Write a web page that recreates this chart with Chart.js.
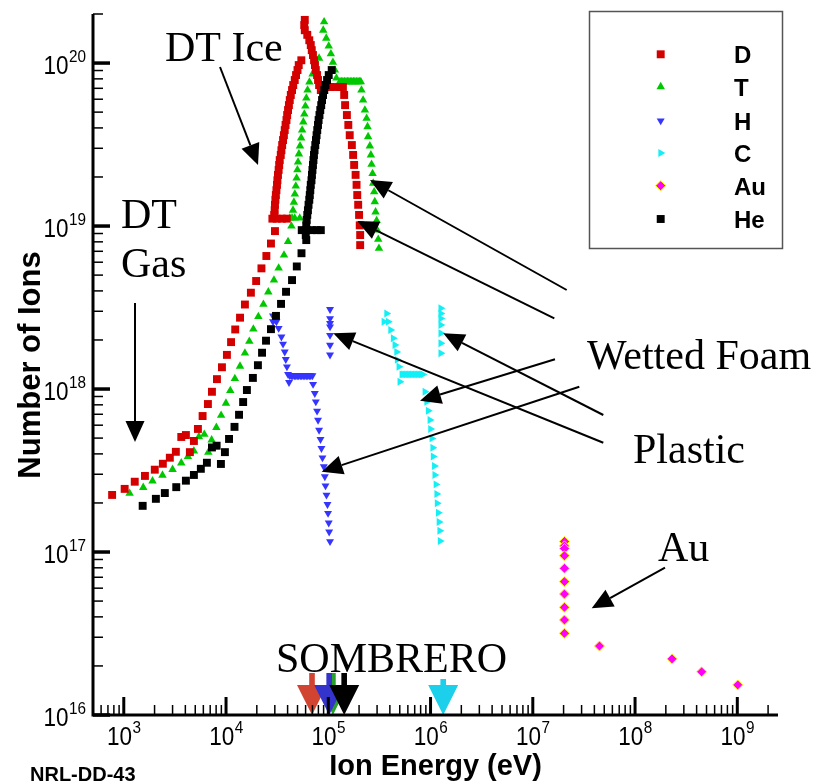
<!DOCTYPE html>
<html>
<head>
<meta charset="utf-8">
<script src="https://cdn.jsdelivr.net/npm/chart.js@4.4.1/dist/chart.umd.min.js"></script>
<style>
  html, body { margin: 0; padding: 0; background: #fff; }
</style>
</head>
<body>
<canvas id="myChart" width="821" height="784"></canvas>
<script>
// ---- data (ion energy in eV, number of ions) ----
const dEnergy = [
  7.69e2, 1.02e3, 1.28e3, 1.61e3, 2.01e3, 2.41e3, 2.82e3, 3.23e3, 3.65e3, 4.05e3,
  4.43e3, 4.85e3, 5.31e3, 5.90e3, 6.65e3, 7.28e3, 8.15e3, 9.12e3, 1.02e4, 1.12e4,
  1.23e4, 1.37e4, 1.53e4, 1.75e4, 1.97e4, 2.22e4, 2.48e4, 2.75e4, 3.01e4,
  2.84e4, 3.13e4, 3.51e4, 3.93e4,
  2.96e4, 2.99e4, 3.01e4, 3.04e4, 3.07e4, 3.11e4, 3.15e4, 3.18e4, 3.22e4, 3.27e4,
  3.31e4, 3.35e4, 3.43e4, 3.48e4, 3.54e4, 3.61e4, 3.68e4, 3.75e4, 3.82e4, 3.90e4,
  3.96e4, 4.04e4, 4.12e4, 4.20e4, 4.30e4, 4.42e4, 4.54e4, 4.70e4, 4.84e4, 5.00e4,
  5.14e4, 5.45e4,
  5.89e4, 5.82e4, 5.89e4, 6.23e4, 6.52e4, 6.74e4, 6.89e4, 7.08e4, 7.26e4, 7.41e4,
  7.55e4, 7.77e4, 7.94e4, 8.13e4, 8.45e4,
  9.25e4, 1.04e5, 1.16e5, 1.30e5, 1.39e5,
  1.43e5, 1.46e5, 1.52e5, 1.57e5, 1.62e5, 1.70e5, 1.75e5, 1.79e5, 1.85e5, 1.89e5,
  1.92e5, 1.96e5, 2.00e5, 2.03e5, 2.05e5, 2.05e5
];
const dIons = [
  2.24e17, 2.44e17, 2.70e17, 2.93e17, 3.20e17, 3.48e17, 3.79e17, 4.12e17, 5.08e17, 5.22e17,
  4.10e17, 4.80e17, 5.69e17, 6.83e17, 8.09e17, 9.62e17, 1.15e18, 1.36e18, 1.62e18, 1.94e18,
  2.32e18, 2.74e18, 3.30e18, 3.90e18, 4.60e18, 5.50e18, 6.55e18, 7.81e18, 9.31e18,
  1.11e19, 1.11e19, 1.11e19, 1.11e19,
  1.17e19, 1.25e19, 1.35e19, 1.45e19, 1.55e19, 1.66e19, 1.79e19, 1.91e19, 2.06e19, 2.21e19,
  2.37e19, 2.54e19, 2.73e19, 2.92e19, 3.14e19, 3.37e19, 3.61e19, 3.88e19, 4.17e19, 4.47e19,
  4.80e19, 5.15e19, 5.52e19, 5.93e19, 6.37e19, 6.83e19, 7.33e19, 7.87e19, 8.44e19, 9.06e19,
  9.72e19, 1.04e20,
  1.84e20, 1.71e20, 1.59e20, 1.49e20, 1.38e20, 1.29e20, 1.20e20, 1.12e20, 1.04e20, 9.72e19,
  9.06e19, 8.44e19, 7.87e19, 7.33e19, 6.83e19,
  7.13e19, 7.13e19, 7.13e19, 7.13e19, 7.13e19,
  6.37e19, 5.52e19, 4.80e19, 4.17e19, 3.61e19, 3.14e19, 2.73e19, 2.37e19, 2.06e19, 1.79e19,
  1.55e19, 1.35e19, 1.17e19, 1.01e19, 8.81e18, 7.64e18
];

const tEnergy = [
  1.14e3, 1.55e3, 1.91e3, 2.39e3, 3.00e3, 3.65e3, 4.24e3, 4.85e3, 5.43e3, 6.13e3,
  6.71e3, 7.23e3, 8.04e3, 8.95e3, 9.98e3, 1.10e4, 1.22e4, 1.37e4, 1.53e4, 1.69e4,
  1.85e4, 2.07e4, 2.32e4, 2.59e4, 2.94e4, 3.27e4, 3.69e4, 4.04e4,
  4.20e4, 4.70e4, 5.26e4,
  4.36e4, 4.42e4, 4.52e4, 4.61e4, 4.71e4, 4.81e4, 4.90e4, 4.99e4, 5.06e4, 5.16e4,
  5.29e4, 5.43e4, 5.55e4, 5.70e4, 5.83e4, 5.97e4, 6.10e4, 6.27e4, 6.54e4, 7.02e4,
  7.43e4, 8.13e4,
  9.10e4, 8.93e4, 9.55e4, 1.01e5, 1.06e5, 1.11e5, 1.16e5, 1.20e5, 1.24e5,
  1.30e5, 1.34e5, 1.39e5, 1.44e5, 1.49e5, 1.54e5, 1.59e5, 1.64e5, 1.70e5, 1.76e5,
  1.82e5, 1.88e5, 1.95e5, 2.01e5, 2.08e5,
  2.11e5, 2.19e5, 2.28e5, 2.37e5, 2.42e5, 2.45e5, 2.55e5, 2.61e5, 2.65e5, 2.71e5,
  2.75e5, 2.81e5, 2.85e5, 2.90e5, 2.97e5, 3.01e5, 3.08e5, 3.13e5
];
const tIons = [
  2.29e17, 2.49e17, 2.73e17, 2.96e17, 3.21e17, 3.52e17, 3.85e17, 4.17e17, 5.10e17, 5.27e17,
  4.09e17, 4.87e17, 5.81e17, 6.90e17, 8.18e17, 9.79e17, 1.16e18, 1.38e18, 1.66e18, 1.96e18,
  2.33e18, 2.78e18, 3.31e18, 3.94e18, 4.66e18, 5.52e18, 6.64e18, 8.02e18,
  1.12e19, 1.12e19, 1.12e19,
  1.00e19, 1.12e19, 1.25e19, 1.40e19, 1.57e19, 1.76e19, 1.97e19, 2.21e19, 2.47e19, 2.77e19,
  3.10e19, 3.47e19, 3.88e19, 4.35e19, 4.86e19, 5.45e19, 6.10e19, 6.83e19, 7.64e19, 8.57e19,
  9.59e19, 1.07e20,
  1.79e20, 1.59e20, 1.42e20, 1.27e20, 1.14e20, 1.01e20, 9.06e19, 8.09e19, 7.23e19,
  7.68e19, 7.68e19, 7.68e19, 7.68e19, 7.68e19, 7.68e19, 7.68e19, 7.68e19, 7.68e19, 7.68e19,
  7.68e19, 7.68e19, 7.68e19, 7.68e19, 7.68e19,
  6.83e19, 5.93e19, 5.15e19, 4.58e19, 4.07e19, 3.53e19, 3.10e19, 2.73e19, 2.39e19, 2.10e19,
  1.83e19, 1.62e19, 1.41e19, 1.22e19, 1.08e19, 9.44e18, 8.28e18, 7.30e18
];

const hEnergy = [
  2.88e4, 2.88e4, 3.11e4, 3.27e4, 3.48e4, 3.61e4, 3.75e4, 3.84e4, 3.94e4, 4.04e4, 4.13e4,
  4.20e4, 4.35e4, 4.49e4, 4.65e4, 4.81e4, 4.97e4, 5.14e4, 5.32e4, 5.50e4, 5.69e4,
  5.89e4, 6.09e4, 6.30e4, 6.52e4, 6.74e4, 7.00e4,
  7.10e4, 7.38e4, 7.55e4, 7.77e4, 7.94e4, 8.13e4, 8.39e4, 8.57e4, 8.77e4, 9.04e4,
  9.25e4, 9.39e4, 9.60e4, 9.82e4, 9.95e4, 1.01e5, 1.02e5, 1.04e5,
  1.04e5, 1.04e5, 1.04e5, 1.04e5, 1.04e5, 1.04e5, 1.04e5
];
const hIons = [
  2.81e18, 2.59e18, 2.59e18, 2.36e18, 2.09e18, 1.89e18, 1.69e18, 1.52e18, 1.37e18, 1.23e18, 1.10e18,
  1.21e18, 1.21e18, 1.21e18, 1.21e18, 1.21e18, 1.21e18, 1.21e18, 1.21e18, 1.21e18, 1.21e18,
  1.21e18, 1.21e18, 1.21e18, 1.21e18, 1.21e18, 1.21e18,
  1.07e18, 9.41e17, 8.36e17, 7.33e17, 6.45e17, 5.60e17, 4.91e17, 4.33e17, 3.79e17, 3.34e17,
  2.90e17, 2.55e17, 2.24e17, 1.96e17, 1.73e17, 1.51e17, 1.33e17, 1.16e17,
  3.08e18, 2.71e18, 2.53e18, 2.41e18, 2.14e18, 1.86e18, 1.62e18
];

const cEnergy = [
  3.72e5, 3.50e5, 3.85e5, 4.07e5, 4.31e5, 4.48e5, 4.66e5, 4.72e5, 4.90e5, 5.01e5,
  5.25e5, 5.43e5, 5.61e5, 5.81e5, 6.01e5, 6.22e5, 6.43e5, 6.65e5, 6.87e5, 7.11e5,
  7.36e5, 7.61e5, 7.87e5, 8.14e5, 8.42e5,
  8.81e5, 9.16e5, 9.48e5, 9.86e5, 1.00e6, 1.03e6, 1.05e6, 1.06e6, 1.09e6, 1.10e6,
  1.13e6, 1.15e6, 1.16e6, 1.19e6, 1.21e6, 1.23e6, 1.24e6,
  1.26e6, 1.26e6, 1.26e6, 1.26e6, 1.26e6, 1.26e6, 1.26e6
];
const cIons = [
  2.91e18, 2.59e18, 2.59e18, 2.30e18, 2.05e18, 1.86e18, 1.69e18, 1.51e18, 1.37e18, 1.11e18,
  1.23e18, 1.23e18, 1.23e18, 1.23e18, 1.23e18, 1.23e18, 1.23e18, 1.23e18, 1.23e18, 1.23e18,
  1.23e18, 1.23e18, 1.23e18, 1.23e18, 1.23e18,
  9.62e17, 8.36e17, 7.36e17, 6.45e17, 5.69e17, 4.98e17, 4.36e17, 3.85e17, 3.37e17, 2.97e17,
  2.60e17, 2.27e17, 1.99e17, 1.74e17, 1.53e17, 1.35e17, 1.17e17,
  3.13e18, 2.91e18, 2.71e18, 2.47e18, 2.20e18, 1.91e18, 1.66e18
];

const auEnergy = [
  2.04e7, 2.04e7, 2.04e7, 2.04e7, 2.04e7, 2.04e7, 2.04e7, 2.04e7, 2.04e7, 2.04e7,
  4.49e7, 2.30e8, 4.48e8, 1.01e9
];
const auIons = [
  1.16e17, 1.09e17, 1.05e17, 9.49e16, 7.94e16, 6.58e16, 5.52e16, 4.58e16, 3.83e16, 3.17e16,
  2.65e16, 2.21e16, 1.84e16, 1.53e16
];

const heEnergy = [
  1.53e3, 2.06e3, 2.52e3, 3.26e3, 4.05e3, 4.85e3, 5.67e3, 6.50e3, 7.28e3, 8.09e3,
  8.91e3, 9.75e3, 1.07e4, 1.21e4, 1.34e4, 1.47e4, 1.60e4, 1.83e4, 2.05e4, 2.25e4,
  2.46e4, 2.75e4, 3.08e4, 3.45e4, 3.86e4, 4.42e4, 4.92e4, 5.47e4,
  5.50e4, 6.15e4, 6.89e4, 7.71e4, 8.45e4,
  6.09e4, 6.02e4, 6.02e4, 6.09e4, 6.15e4, 6.23e4, 6.32e4, 6.41e4, 6.52e4, 6.59e4,
  6.67e4, 6.74e4, 6.85e4, 6.92e4, 7.00e4, 7.08e4, 7.16e4, 7.24e4, 7.34e4, 7.46e4,
  7.58e4, 7.68e4, 7.80e4, 7.93e4, 8.04e4, 8.20e4, 8.35e4, 8.53e4, 8.69e4, 8.89e4,
  9.14e4, 9.39e4, 9.73e4, 1.01e5, 1.08e5
];
const heIons = [
  1.92e17, 2.12e17, 2.30e17, 2.50e17, 2.74e17, 2.97e17, 3.24e17, 3.53e17, 4.38e17, 4.49e17,
  3.47e17, 4.10e17, 4.94e17, 5.86e17, 6.95e17, 8.32e17, 9.86e17, 1.17e18, 1.40e18, 1.67e18,
  1.98e18, 2.33e18, 2.81e18, 3.33e18, 3.95e18, 4.66e18, 5.65e18, 6.81e18,
  9.44e18, 9.44e18, 9.44e18, 9.44e18, 9.44e18,
  8.20e18, 8.81e18, 9.44e18, 1.01e19, 1.09e19, 1.17e19, 1.25e19, 1.35e19, 1.45e19, 1.55e19,
  1.66e19, 1.79e19, 1.91e19, 2.06e19, 2.21e19, 2.37e19, 2.54e19, 2.73e19, 2.92e19, 3.14e19,
  3.37e19, 3.61e19, 3.88e19, 4.17e19, 4.47e19, 4.80e19, 5.15e19, 5.52e19, 5.93e19, 6.37e19,
  6.83e19, 7.33e19, 7.87e19, 8.44e19, 9.06e19
];

// SOMBRERO markers on the energy axis (red, green, blue, black, cyan)
const sombreroEnergy = [6.93e4, 1.11e5, 1.02e5, 1.43e5, 1.33e6];
const sombreroColors = ['#d24432', '#2ca02c', '#3434cc', '#000000', '#1ccfea'];

// axis decades
const xDecades = [3, 4, 5, 6, 7, 8, 9];
const yDecades = [16, 17, 18, 19, 20];

const toPoints = (E, N) => E.map((e, i) => ({ x: e, y: N[i] }));

const SANS = '"Liberation Sans", Arial, Helvetica, sans-serif';
const SERIF = '"Liberation Serif", "Times New Roman", serif';

function txt(ctx, s, x, y, font, align, sx) {
  ctx.save();
  ctx.font = font;
  ctx.translate(x, y);
  ctx.scale(sx || 1, 1);
  ctx.textAlign = align || 'left';
  ctx.textBaseline = 'alphabetic';
  ctx.fillStyle = '#000';
  ctx.fillText(s, 0, 0);
  ctx.restore();
}

function arrow(ctx, x1, y1, x2, y2) {
  const a = Math.atan2(y2 - y1, x2 - x1);
  const L = 21, W = 9.5;
  const bx = x2 - L * Math.cos(a), by = y2 - L * Math.sin(a);
  ctx.save();
  ctx.strokeStyle = '#000';
  ctx.fillStyle = '#000';
  ctx.lineWidth = 2;
  ctx.beginPath();
  ctx.moveTo(x1, y1);
  ctx.lineTo(bx, by);
  ctx.stroke();
  ctx.beginPath();
  ctx.moveTo(x2, y2);
  ctx.lineTo(bx + W * Math.sin(a), by - W * Math.cos(a));
  ctx.lineTo(bx - W * Math.sin(a), by + W * Math.cos(a));
  ctx.closePath();
  ctx.fill();
  ctx.restore();
}

// axes, ticks, labels, legend and annotations
const decorations = {
  id: 'decorations',
  afterDraw(chart) {
    const { ctx, chartArea: { left, right, top, bottom }, scales: { x, y } } = chart;
    ctx.save();

    // SOMBRERO arrows
    sombreroEnergy.forEach((e, i) => {
      const px = x.getPixelForValue(e);
      const shaftTop = i === 4 ? 679 : 673;
      ctx.fillStyle = sombreroColors[i];
      ctx.fillRect(px - 2.8, shaftTop, 5.6, 686 - shaftTop);
      ctx.beginPath();
      ctx.moveTo(px - 15, 685);
      ctx.lineTo(px + 15, 685);
      ctx.lineTo(px, bottom);
      ctx.closePath();
      ctx.fill();
    });

    // axis lines
    ctx.strokeStyle = '#000';
    ctx.lineWidth = 3;
    ctx.beginPath();
    ctx.moveTo(left, top);
    ctx.lineTo(left, bottom + 1.5);
    ctx.moveTo(left - 1.5, bottom);
    ctx.lineTo(right, bottom);
    ctx.stroke();

    // x ticks
    for (let d = 2; d <= 9; d++) {
      for (let m = 1; m <= 9; m++) {
        const v = m * Math.pow(10, d);
        if (v < x.min || v > x.max) continue;
        const px = x.getPixelForValue(v);
        ctx.lineWidth = m === 1 ? 3 : 1.5;
        ctx.beginPath();
        ctx.moveTo(px, bottom);
        ctx.lineTo(px, bottom - (m === 1 ? 18 : 10));
        ctx.stroke();
      }
    }
    // y ticks
    for (let d = 16; d <= 20; d++) {
      for (let m = 1; m <= 9; m++) {
        const v = m * Math.pow(10, d);
        if (v < y.min || v > y.max * 1.0001) continue;
        const py = y.getPixelForValue(v);
        ctx.lineWidth = m === 1 ? 3.5 : 1.5;
        ctx.beginPath();
        ctx.moveTo(left, py);
        ctx.lineTo(left + (m === 1 ? 17 : 10), py);
        ctx.stroke();
      }
    }

    // tick labels: 10 with exponent
    const F10 = '25px ' + SANS, FEXP = '17px ' + SANS, SX = 0.9;
    ctx.font = F10; const w10 = ctx.measureText('10').width * SX;
    xDecades.forEach(d => {
      const px = x.getPixelForValue(Math.pow(10, d));
      ctx.font = FEXP; const we = ctx.measureText(String(d)).width * SX;
      const x0 = px - (w10 + we) / 2;
      txt(ctx, '10', x0, 745, F10, 'left', SX);
      txt(ctx, String(d), x0 + w10 + 0.5, 733, FEXP, 'left', SX);
    });
    yDecades.forEach(d => {
      const py = y.getPixelForValue(Math.pow(10, d));
      ctx.font = FEXP; const we = ctx.measureText(String(d)).width * SX;
      const xe = 86 - we;
      txt(ctx, '10', xe - 0.5, py + 11, F10, 'right', SX);
      txt(ctx, String(d), xe, py - 1, FEXP, 'left', SX);
    });

    // axis titles
    txt(ctx, 'Ion Energy (eV)', 435.5, 775, 'bold 29px ' + SANS, 'center');
    ctx.save();
    ctx.translate(40, 365);
    ctx.rotate(-Math.PI / 2);
    txt(ctx, 'Number of Ions', 0, 0, 'bold 31px ' + SANS, 'center');
    ctx.restore();
    txt(ctx, 'NRL-DD-43', 30, 781, 'bold 20px ' + SANS, 'left');

    // annotations
    const FS = '42px ' + SERIF;
    txt(ctx, 'DT Ice', 165, 61, FS);
    txt(ctx, 'DT', 121, 228, FS);
    txt(ctx, 'Gas', 121, 277, FS);
    txt(ctx, 'Wetted Foam', 587, 369, FS);
    txt(ctx, 'Plastic', 633, 463, FS);
    txt(ctx, 'Au', 658, 561, FS);
    txt(ctx, 'SOMBRERO', 276, 672, FS);

    arrow(ctx, 220, 67, 258, 165);
    arrow(ctx, 135, 303, 135, 442);
    arrow(ctx, 566.7, 290, 370, 180);
    arrow(ctx, 554.3, 318.3, 357.3, 221);
    arrow(ctx, 555, 359.3, 420, 400.7);
    arrow(ctx, 579.3, 386.7, 321.7, 471.7);
    arrow(ctx, 603.3, 415, 443.3, 333.3);
    arrow(ctx, 603.3, 442.7, 333.3, 333.3);
    arrow(ctx, 665, 567.7, 591.7, 608.3);

    // legend
    ctx.fillStyle = '#fff';
    ctx.strokeStyle = '#555';
    ctx.lineWidth = 1.5;
    ctx.fillRect(589.5, 11.5, 193, 237);
    ctx.strokeRect(589.5, 11.5, 193, 237);
    const rows = [54.3, 86.7, 120.7, 153, 185.7, 219];
    chart.data.datasets.forEach((ds, i) => {
      const ry = rows[i];
      ctx.fillStyle = ds.backgroundColor;
      ctx.strokeStyle = ds.borderColor;
      ctx.lineWidth = ds.borderWidth;
      Chart.helpers.drawPoint(ctx, {
        pointStyle: ds.pointStyle, rotation: ds.rotation,
        radius: ds.pointRadius, borderWidth: ds.borderWidth
      }, 660.7, ry);
      txt(ctx, ds.label, 734, ry + 9, 'bold 24px ' + SANS, 'left');
    });

    ctx.restore();
  }
};

const data = {
  datasets: [
    { label: 'D', data: toPoints(dEnergy, dIons), pointStyle: 'rect', pointRadius: 5.6,
      backgroundColor: '#d40000', borderColor: '#d40000', borderWidth: 0, order: 1 },
    { label: 'T', data: toPoints(tEnergy, tIons), pointStyle: 'triangle', pointRadius: 4.9,
      backgroundColor: '#00c800', borderColor: '#00c800', borderWidth: 0, order: 2 },
    { label: 'H', data: toPoints(hEnergy, hIons), pointStyle: 'triangle', rotation: 180, pointRadius: 4.6,
      backgroundColor: '#3535ff', borderColor: '#3535ff', borderWidth: 0, order: 3 },
    { label: 'C', data: toPoints(cEnergy, cIons), pointStyle: 'triangle', rotation: 90, pointRadius: 4.6,
      backgroundColor: '#12f0f6', borderColor: '#12f0f6', borderWidth: 0, order: 4 },
    { label: 'Au', data: toPoints(auEnergy, auIons), pointStyle: 'rectRot', pointRadius: 5,
      backgroundColor: '#ff00ff', borderColor: '#ffee00', borderWidth: 1, order: 5 },
    { label: 'He', data: toPoints(heEnergy, heIons), pointStyle: 'rect', pointRadius: 5.6,
      backgroundColor: '#000000', borderColor: '#000000', borderWidth: 0, order: 0 }
  ]
};

const config = {
  type: 'scatter',
  data,
  options: {
    responsive: false,
    animation: false,
    layout: { padding: { left: 93, right: 43, top: 14, bottom: 69 } },
    plugins: { legend: { display: false }, tooltip: { enabled: false } },
    scales: {
      x: { type: 'logarithmic', min: 500, max: 2.5e9, display: false },
      y: { type: 'logarithmic', min: 1e16, max: 2e20, display: false }
    }
  },
  plugins: [decorations]
};

const myChart = new Chart(document.getElementById('myChart'), config);
</script>
</body>
</html>
